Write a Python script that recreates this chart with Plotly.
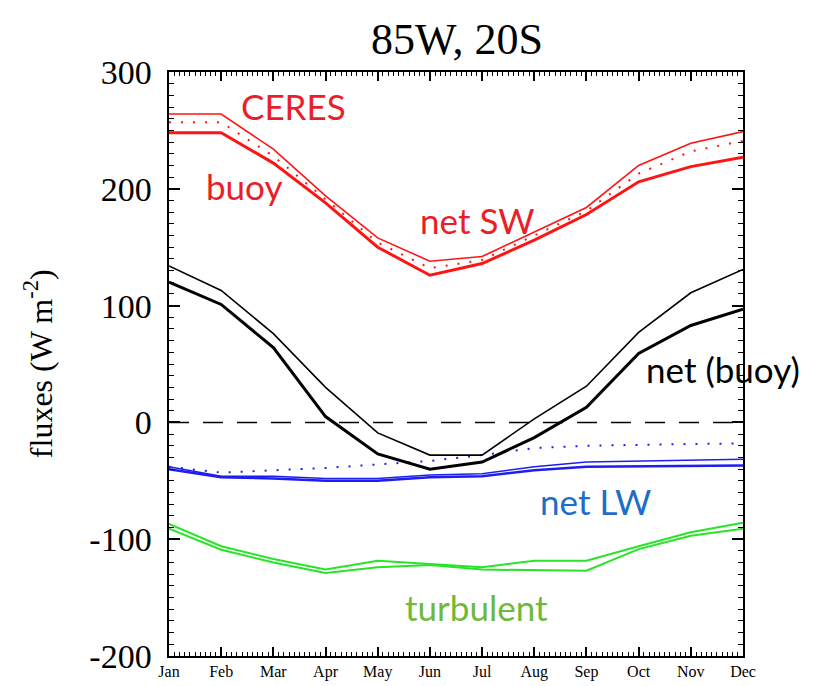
import plotly.graph_objects as go

months = ["Jan", "Feb", "Mar", "Apr", "May", "Jun", "Jul", "Aug", "Sep", "Oct", "Nov", "Dec"]
x_idx = list(range(12))

sw_ceres = [264, 264, 234, 194, 158, 138, 142, 163, 184, 220, 239, 249]
sw_mid = [257, 257, 228, 191, 154, 132, 139, 160, 181, 213, 232, 241]
sw_buoy = [248, 248, 222, 188, 150, 126, 136, 156, 178, 206, 219, 227]

net_ceres = [134, 113, 76, 30, -9, -28, -28, 3, 31, 77, 111, 131]
net_buoy = [120, 101, 64, 5, -27, -40, -34, -13, 13, 59, 83, 97]

lw_dot = [-38, -43, -41, -39, -36, -33, -28, -22, -20, -19, -18.5, -18]
lw_a = [-38, -46, -46, -48, -48, -45, -44, -38, -34, -33, -32, -31.5]
lw_b = [-40, -47, -48, -50, -50, -47, -46, -41, -38, -37.5, -37, -37]

turb_a = [-87, -106, -117, -126, -118.5, -121, -124, -118.5, -118.5, -106, -94, -86]
turb_b = [-91, -109, -120, -129, -124, -122, -126, -126.5, -127, -108.5, -97, -91]

yticks = [-200, -100, 0, 100, 200, 300]

RED = "rgb(255,20,20)"
BLUE = "rgb(30,30,240)"
GREEN = "rgb(40,228,40)"

fig = go.Figure()

def add(y, color, width, dash="solid"):
    fig.add_trace(go.Scatter(x=x_idx, y=y, mode="lines",
                             line=dict(color=color, width=width, dash=dash),
                             showlegend=False, hoverinfo="skip"))

# zero line
fig.add_trace(go.Scatter(x=[0, 11], y=[0, 0], mode="lines",
                         line=dict(color="black", width=1.5, dash="20px,14px"),
                         showlegend=False, hoverinfo="skip"))

add(turb_a, GREEN, 2)
add(turb_b, GREEN, 2)
add(lw_dot, BLUE, 2, "2px,10px")
add(lw_a, BLUE, 1.5)
add(lw_b, BLUE, 2.5)
add(net_ceres, "black", 1.6)
add(net_buoy, "black", 3)
add(sw_mid, RED, 2, "2px,10px")
add(sw_ceres, RED, 1.6)
add(sw_buoy, RED, 3)

labels = [
    ("CERES", 2.38, 270.6, "rgb(235,30,40)"),
    ("buoy", 1.44, 202, "rgb(235,30,40)"),
    ("net SW", 5.92, 173, "rgb(235,30,40)"),
    ("net (buoy)", 10.62, 46, "black"),
    ("net LW", 8.18, -67, "rgb(30,110,200)"),
    ("turbulent", 5.90, -158, "rgb(110,185,60)"),
]
for t, xx, yy, c in labels:
    fig.add_annotation(x=xx, y=yy, text=t, showarrow=False, xanchor="center", yanchor="middle",
                       font=dict(family="Lato", size=35, color=c))

fig.add_annotation(x=0.502, y=1.055, xref="paper", yref="paper", text="85W, 20S", showarrow=False,
                   xanchor="center", yanchor="middle",
                   font=dict(family="Liberation Serif", size=44, color="black"))
fig.add_annotation(x=-0.228, y=0.5, xref="paper", yref="paper", text="fluxes (W m<sup>-2</sup>)",
                   showarrow=False, textangle=-90, xanchor="center", yanchor="middle",
                   font=dict(family="Liberation Serif", size=32, color="black"))

x_alias = {str(i): m for i, m in zip(x_idx, months)}
y_alias = {("\u2212" + str(-v) if v < 0 else str(v)): str(v) + "\u00a0" for v in yticks}

fig.update_layout(
    width=815, height=686,
    margin=dict(l=161, r=80, t=64, b=38),
    plot_bgcolor="white",
    xaxis=dict(range=[0, 11], showline=True, linecolor="black", linewidth=2, mirror="allticks",
               ticks="inside", ticklen=9, tickwidth=2, tickcolor="black",
               tickmode="linear", tick0=0, dtick=1, labelalias=x_alias,
               tickfont=dict(family="Liberation Serif", size=16, color="black"),
               minor=dict(dtick=0.1, ticks="inside", ticklen=4, tickwidth=1.2, tickcolor="black")),
    yaxis=dict(range=[-200, 300], showline=True, linecolor="black", linewidth=2, mirror="allticks",
               ticks="inside", ticklen=11, tickwidth=2, tickcolor="black",
               tickmode="linear", tick0=0, dtick=100, labelalias=y_alias,
               tickfont=dict(family="Liberation Serif", size=34, color="black"),
               minor=dict(dtick=10, ticks="inside", ticklen=5, tickwidth=1.2, tickcolor="black")),
)

fig.write_html("out.html")
